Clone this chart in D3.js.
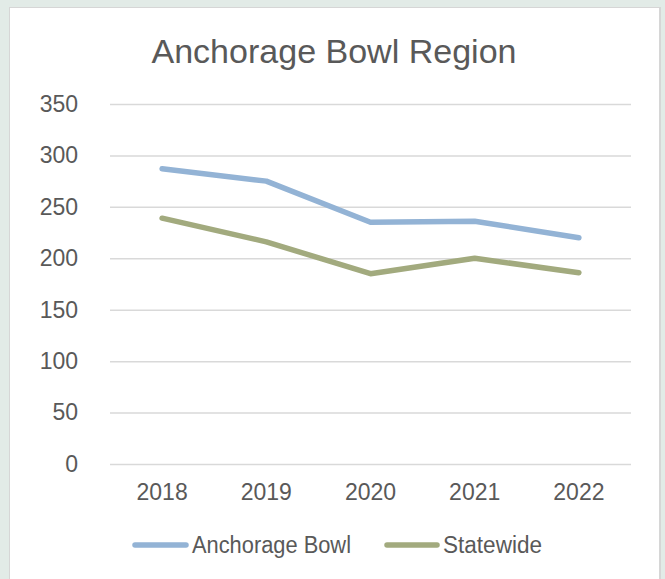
<!DOCTYPE html>
<html><head><meta charset="utf-8">
<script src="https://cdn.jsdelivr.net/npm/d3@7"></script>
<style>html,body{margin:0;padding:0;background:#e2ebe7;}svg{display:block;}</style>
</head><body><svg id="c" width="665" height="579"></svg>
<script>
const years = ["2018","2019","2020","2021","2022"];
const anchorage = [287, 275, 235, 236, 220];
const statewide = [239, 216, 185, 200, 186];
const yTicks = [0,50,100,150,200,250,300,350];
const seriesNames = ["Anchorage Bowl","Statewide"];
const colors = ["#93b3d5","#a2aa7e"];
const FONT = "'Liberation Sans',Arial,sans-serif";

const svg = d3.select("#c");
svg.append("rect").attr("x",9).attr("y",7).attr("width",652).attr("height",580).attr("fill","#d6d6d6");
svg.append("rect").attr("x",10).attr("y",8).attr("width",649).attr("height",580).attr("fill","#ffffff");

const x = d3.scaleBand().domain(years).range([110,631]);
const y = d3.scaleLinear().domain([0,350]).range([464,104]);

svg.append("text").attr("x",334).attr("y",63).attr("text-anchor","middle")
  .attr("font-family",FONT).attr("font-size",34)
  .attr("textLength",365).attr("lengthAdjust","spacingAndGlyphs")
  .attr("fill","#595959").text("Anchorage Bowl Region");

const ya = svg.append("g").attr("transform","translate(110,0)")
  .call(d3.axisLeft(y).tickValues(yTicks).tickSize(-521).tickPadding(32).tickFormat(d3.format("d")));
ya.select(".domain").remove();
ya.selectAll("line").attr("stroke","#d9d9d9").attr("stroke-width",1.5);
ya.selectAll("text").attr("font-family",FONT).attr("font-size",23).attr("fill","#595959");

const xa = svg.append("g").attr("transform","translate(0,464)")
  .call(d3.axisBottom(x).tickSize(0).tickPadding(20));
xa.select(".domain").remove();
xa.selectAll("text").attr("font-family",FONT).attr("font-size",23).attr("fill","#595959");

const line = d3.line().x((d,i)=>x(years[i])+x.bandwidth()/2).y(d=>y(d));
[anchorage, statewide].forEach((s,k)=>{
  svg.append("path").attr("d",line(s)).attr("fill","none").attr("stroke",colors[k])
    .attr("stroke-width",5.5).attr("stroke-linecap","round").attr("stroke-linejoin","round");
});

const leg = [{x0:135,x1:186,tx:192,w:159},{x0:387,x1:437,tx:443,w:99}];
seriesNames.forEach((n,k)=>{
  const L = leg[k];
  const g = svg.append("g").attr("transform","translate(0,545)");
  g.append("line").attr("x1",L.x0).attr("x2",L.x1).attr("y1",0).attr("y2",0)
    .attr("stroke",colors[k]).attr("stroke-width",5.5).attr("stroke-linecap","round");
  g.append("text").attr("x",L.tx).attr("y",7.5).attr("font-family",FONT)
    .attr("font-size",23).attr("textLength",L.w).attr("lengthAdjust","spacingAndGlyphs")
    .attr("fill","#595959").text(n);
});
</script></body></html>
